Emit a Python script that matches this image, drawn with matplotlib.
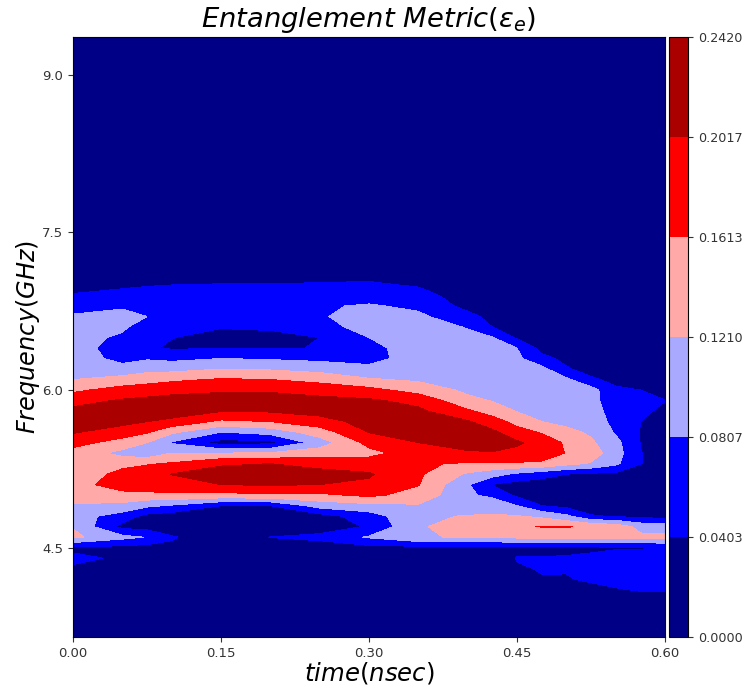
#!/usr/bin/env python3
"""Entanglement metric vs. time and frequency, filled contours."""

import matplotlib

matplotlib.use("Agg")
import matplotlib.pyplot as plt
import numpy as np

# values, in colour-band units (1.0 = one colorbar step)
TIME = [0.0, 0.05, 0.075, 0.10, 0.15, 0.20, 0.25, 0.30, 0.35, 0.40, 0.425, 0.45, 0.475, 0.50, 0.525, 0.55, 0.575, 0.60]
FREQ = [9.36, 7.2, 7.1, 7.0, 6.9, 6.8, 6.7, 6.6, 6.5, 6.4, 6.3, 6.2, 6.1, 6.0, 5.9, 5.8, 5.7,
        5.6, 5.5, 5.4, 5.3, 5.2, 5.1, 5.0, 4.9, 4.8, 4.7, 4.6, 4.5, 4.4, 4.3, 4.2, 4.1, 4.0, 3.65]

t000 = [0, 0, .1, .55, 1.1, 1.65, 2.1, 2.25, 2.35, 2.45, 2.6, 2.8, 3.0, 3.8, 4.65, 5.25, 5.5,
        5.1, 4.35, 3.6, 2.95, 3.3, 3.5, 3.4, 2.9, 2.5, 2.95, 3.2, .85, 1.15, .9, .3, .1, 0, 0]
t005 = [0, 0, .2, .8, 1.35, 1.9, 2.25, 2.15, 1.85, 1.5, 1.65, 2.4, 3.35, 4.4, 5.1, 5.6, 5.3,
        4.5, 3.6, 2.7, 3.7, 4.3, 4.6, 3.6, 2.75, 1.5, .7, 2.3, .7, .9, .5, .1, 0, 0, 0]
t0075 = [0, 0, .25, .95, 1.3, 1.6, 2.0, 1.55, 1.3, 1.1, 1.9, 2.7, 3.55, 4.6, 5.2, 5.6, 5.0,
         4.1, 3.0, 2.3, 3.9, 4.6, 4.6, 3.7, 2.2, .7, .6, 1.95, .6, .4, .15, 0, 0, 0, 0]
t010 = [0, 0, .3, 1.0, 1.25, 1.45, 1.55, 1.4, 1.02, .9, 1.75, 2.7, 3.8, 4.75, 5.3, 5.6, 4.7,
        3.2, 1.9, 3.0, 4.1, 5.02, 4.7, 3.8, 1.9, .5, .3, 1.1, .8, .1, 0, 0, 0, 0, 0]
t015 = [0, 0, .6, 1.05, 1.3, 1.5, 1.4, 1.05, .7, .95, 2.0, 3.0, 4.1, 4.85, 5.5, 5.05, 3.8,
        2.0, .6, 3.0, 4.85, 5.5, 5.0, 3.7, 1.0, .3, .2, .3, .3, .1, 0, 0, 0, 0, 0]
t020 = [0, 0, .6, 1.05, 1.3, 1.5, 1.4, 1.12, .75, .95, 1.9, 2.9, 4.0, 4.85, 5.5, 5.1, 4.0,
        2.4, .7, 3.1, 5.0, 5.6, 5.1, 3.8, 1.0, .3, .2, 1.02, .4, .05, 0, 0, 0, 0, 0]
t025 = [0, 0, .65, 1.1, 1.4, 1.9, 1.85, 1.5, 1.0, 1.02, 1.75, 2.65, 3.7, 4.6, 5.3, 5.4, 4.55,
        3.5, 2.5, 3.5, 4.65, 5.35, 5.0, 3.8, 2.4, .6, .4, 1.3, .4, .05, 0, 0, 0, 0, 0]
t030 = [0, .05, .7, 1.15, 1.6, 2.1, 2.65, 2.5, 2.0, 1.7, 1.6, 2.3, 3.1, 4.3, 5.15, 5.5, 5.4,
        5.05, 4.3, 3.7, 4.5, 5.1, 4.85, 4.2, 2.7, 1.5, 1.1, 2.1, .7, .1, 0, 0, 0, 0, 0]
t035 = [0, .05, .45, .9, 1.4, 1.8, 2.2, 2.4, 2.5, 2.5, 2.55, 2.65, 2.85, 3.6, 4.7, 5.2, 5.45,
        5.3, 5.0, 4.5, 4.1, 4.15, 4.05, 3.6, 2.9, 2.85, 2.95, 2.9, .7, .1, 0, 0, 0, 0, 0]
t040 = [0, 0, .05, .2, .45, .7, 1.3, 1.95, 2.2, 2.3, 2.4, 2.5, 2.65, 2.8, 3.25, 4.15, 5.1,
        5.4, 5.3, 4.9, 3.9, 2.85, 2.1, 2.2, 2.4, 3.05, 3.2, 3.1, .7, .1, 0, 0, 0, 0, 0]
t0425 = [0, 0, 0, .1, .2, .4, .7, 1.0, 2.05, 2.2, 2.3, 2.45, 2.55, 2.7, 2.95, 3.55, 4.45,
         5.2, 5.3, 4.95, 3.85, 2.4, .95, 1.7, 2.8, 3.05, 3.4, 3.05, .7, .3, .3, 0, 0, 0, 0]
t045 = [0, 0, 0, 0, .05, .15, .3, .5, .85, 2.0, 2.2, 2.35, 2.5, 2.6, 2.75, 2.95, 3.65,
        4.4, 5.15, 4.75, 3.9, 1.8, .6, .8, 2.0, 3.05, 3.9, 3.2, .7, 1.05, .9, .1, 0, 0, 0]
t0475 = [0, 0, 0, 0, 0, .05, .15, .25, .4, .65, 1.3, 2.3, 2.4, 2.5, 2.65, 2.8, 3.0,
         3.9, 4.6, 4.6, 3.8, 1.4, .5, .4, 1.0, 2.8, 4.03, 3.3, .7, 1.05, 1.05, .95, .1, 0, 0]
t050 = [0, 0, 0, 0, 0, .05, .1, .2, .3, .5, .75, 1.1, 2.2, 2.35, 2.45, 2.6, 2.75,
        3.25, 3.85, 3.95, 3.3, 1.0, .6, .4, .7, 2.2, 4.05, 3.4, .7, 1.1, 1.1, .9, .3, .05, 0]
t0525 = [0, 0, 0, 0, 0, 0, .05, .1, .15, .25, .4, .65, 1.15, 2.4, 2.35, 2.5, 2.65,
         2.85, 3.15, 3.5, 2.9, .8, .5, .3, .4, 1.1, 3.85, 3.35, .8, 1.2, 1.35, 1.2, .6, .1, 0]
t055 = [0, 0, 0, 0, 0, 0, 0, 0, .05, .1, .2, .4, .75, 1.15, 1.35, 1.5, 1.65,
        1.9, 2.3, 2.45, 2.2, .8, .4, .25, .3, .9, 3.6, 3.3, .9, 1.4, 1.5, 1.4, .9, .3, 0]
t0575 = [0, 0, 0, 0, 0, 0, 0, 0, 0, .03, .08, .15, .55, 1.0, 1.25, 1.2, 1.0,
         .97, .98, 1.02, 1.02, .6, .3, .2, .2, .7, 2.7, 3.2, .9, 1.5, 1.6, 1.5, 1.1, .4, 0]
t060 = [0, 0, 0, 0, 0, 0, 0, 0, 0, 0, .05, .1, .3, .7, 1.02, .8, .7,
        .7, .7, .75, .8, .5, .25, .15, .15, .6, 2.6, 3.2, 1.1, 1.5, 1.6, 1.5, 1.1, .5, 0]
COLUMNS = [t000, t005, t0075, t010, t015, t020, t025, t030, t035, t040, t0425, t045, t0475,
           t050, t0525, t055, t0575, t060]

LEVELS = [0.0, 0.0403, 0.0807, 0.1210, 0.1613, 0.2017, 0.2420]
X_TICKS = [0.0, 0.15, 0.30, 0.45, 0.60]
Y_TICKS = [4.5, 6.0, 7.5, 9.0]

W, H = 746, 687


def px_rect(left, right, top, bottom):
    return [left / W, 1 - bottom / H, (right - left) / W, (bottom - top) / H]


def main():
    z = np.array(COLUMNS).T * LEVELS[-1] / 6

    fig = plt.figure(figsize=(W / 100, H / 100), dpi=100)
    ax = fig.add_axes(px_rect(73, 665, 37, 637))
    cax = fig.add_axes(px_rect(669, 688, 37, 637))

    cs = ax.contourf(TIME, FREQ, z, levels=LEVELS, cmap="seismic")
    ax.set_xlim(0, 0.6)
    ax.set_ylim(3.65, 9.36)
    ax.set_xticks(X_TICKS, [f"{v:.2f}" for v in X_TICKS])
    ax.set_yticks(Y_TICKS, [f"{v:.1f}" for v in Y_TICKS])
    ax.tick_params(labelsize=9.5, colors="#333333")
    ax.set_title(r"$\mathit{Entanglement\ Metric}(\varepsilon_e)$", fontsize=19.7, pad=7)
    ax.set_xlabel(r"$\mathit{time(nsec)}$", fontsize=17.6, labelpad=0)
    ax.set_ylabel(r"$\mathit{Frequency(GHz)}$", fontsize=17.3, labelpad=0)

    cbar = fig.colorbar(cs, cax=cax)
    cbar.set_ticks(LEVELS, labels=[f"{v:.4f}" for v in LEVELS])
    cbar.ax.tick_params(labelsize=9.2, colors="#333333")

    fig.savefig("out.png", dpi=100)


if __name__ == "__main__":
    main()
